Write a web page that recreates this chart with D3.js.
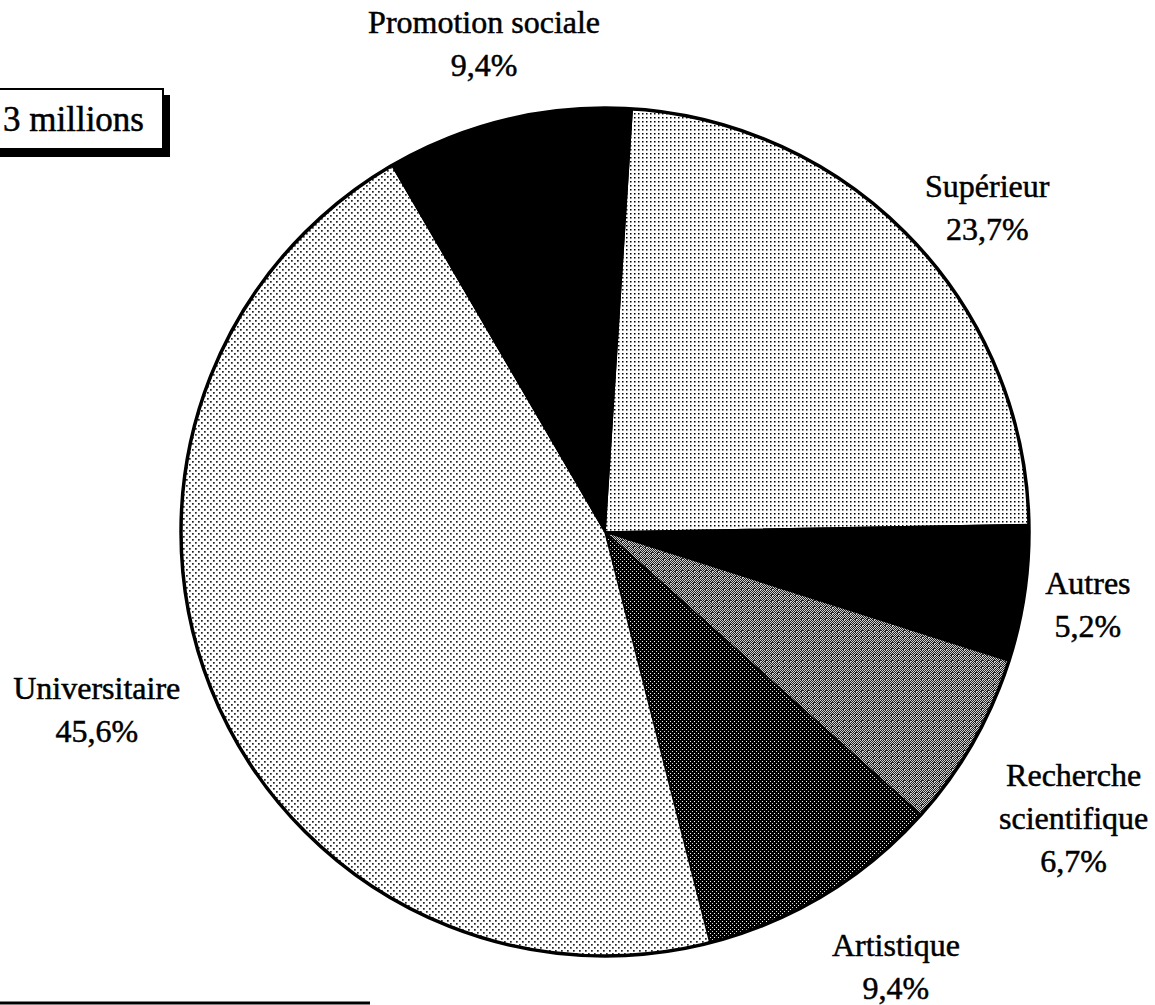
<!DOCTYPE html>
<html>
<head>
<meta charset="utf-8">
<script src="https://cdn.jsdelivr.net/npm/d3@7"></script>
<style>
  body { margin: 0; background: #fff; }
  svg { display: block; }
  text { font-family: "Liberation Serif", "Times New Roman", serif; fill: #000; stroke: #000; stroke-width: 0.5px; }
</style>
</head>
<body>
<div id="chart"></div>
<script>
// Data (share of the budget, %)
const categories = ["Supérieur", "Autres", "Recherche scientifique", "Artistique", "Universitaire", "Promotion sociale"];
const shares = [23.7, 5.2, 6.7, 9.4, 45.6, 9.4];
const shareLabels = ["23,7%", "5,2%", "6,7%", "9,4%", "45,6%", "9,4%"];
const labelLines = [["Supérieur"], ["Autres"], ["Recherche", "scientifique"], ["Artistique"], ["Universitaire"], ["Promotion sociale"]];
const totalLabel = "3 millions";

const width = 1155, height = 1005;
const cx = 605, cy = 532, radius = 424;
const fontSize = 32, lineGap = 43;

// fill of each slice, in category order
const fills = ["url(#p-sup)", "#000", "url(#p-rech)", "url(#p-art)", "url(#p-univ)", "#000"];

// label nudges from a point 480px out along the slice middle (layout only)
const labelR = 480;
const labelShift = [
  { dx: 35, dy: 7 },
  { dx: 8, dy: 3 },
  { dx: 52, dy: 48 },
  { dx: 42, dy: 25 },
  { dx: -64, dy: -4 },
  { dx: -11, dy: -21 }
];

const svg = d3.select("#chart")
  .append("svg")
  .attr("width", width)
  .attr("height", height);

// halftone patterns
const defs = svg.append("defs");

const pSup = defs.append("pattern").attr("id", "p-sup")
  .attr("patternUnits", "userSpaceOnUse").attr("width", 4).attr("height", 4);
pSup.append("rect").attr("width", 4).attr("height", 4).attr("fill", "#fff");
pSup.append("rect").attr("x", 1).attr("y", 1).attr("width", 1.5).attr("height", 1.5).attr("fill", "#000");

const pUniv = defs.append("pattern").attr("id", "p-univ")
  .attr("patternUnits", "userSpaceOnUse").attr("width", 6).attr("height", 6);
pUniv.append("rect").attr("width", 6).attr("height", 6).attr("fill", "#fff");
pUniv.append("rect").attr("x", 1).attr("y", 1).attr("width", 1.7).attr("height", 1.7).attr("fill", "#222");
pUniv.append("rect").attr("x", 4).attr("y", 4).attr("width", 1.7).attr("height", 1.7).attr("fill", "#222");

const pArt = defs.append("pattern").attr("id", "p-art")
  .attr("patternUnits", "userSpaceOnUse").attr("width", 4).attr("height", 4);
pArt.append("rect").attr("width", 4).attr("height", 4).attr("fill", "#000");
pArt.append("rect").attr("x", 1).attr("y", 1).attr("width", 1).attr("height", 1).attr("fill", "#fff");
pArt.append("rect").attr("x", 3).attr("y", 3).attr("width", 1).attr("height", 1).attr("fill", "#ddd");

// mottled mid grey
const pRech = defs.append("pattern").attr("id", "p-rech")
  .attr("patternUnits", "userSpaceOnUse").attr("width", 6).attr("height", 6);
pRech.append("rect").attr("width", 6).attr("height", 6).attr("fill", "#d0d0d0");
[[0, 0], [2, 0], [4, 0], [1, 1], [3, 1], [5, 1], [0, 2], [2, 2], [5, 2], [1, 3], [3, 3], [4, 3],
 [0, 4], [2, 4], [4, 4], [1, 5], [3, 5], [5, 5], [4, 2]]
  .forEach(c => pRech.append("rect")
    .attr("x", c[0]).attr("y", c[1]).attr("width", 1).attr("height", 1).attr("fill", "#222"));

// pie layout: Supérieur ends at 3 o'clock (scan is turned about 1 degree)
const tilt = -1 * Math.PI / 180;
const firstSpan = shares[0] / d3.sum(shares) * 2 * Math.PI;
const start = Math.PI / 2 - firstSpan + tilt;

const pie = d3.pie()
  .sort(null)
  .value(d => d)
  .startAngle(start)
  .endAngle(start + 2 * Math.PI);

const arcs = pie(shares);
const arc = d3.arc().innerRadius(0).outerRadius(radius);

const g = svg.append("g").attr("transform", `translate(${cx},${cy})`);

g.selectAll("path.slice")
  .data(arcs)
  .join("path")
  .attr("class", "slice")
  .attr("d", arc)
  .attr("fill", (d, i) => fills[i])
  .attr("stroke", "#000")
  .attr("stroke-width", 1.5);

g.append("circle")
  .attr("r", radius)
  .attr("fill", "none")
  .attr("stroke", "#000")
  .attr("stroke-width", 3.5);

// labels
g.selectAll("text.lab")
  .data(arcs)
  .join("text")
  .attr("class", "lab")
  .attr("text-anchor", "middle")
  .style("font-size", fontSize + "px")
  .each(function (d, i) {
    const mid = (d.startAngle + d.endAngle) / 2;
    const s = labelShift[i];
    const p = d3.pointRadial(mid, labelR);
    const lines = labelLines[i].concat([shareLabels[i]]);
    const top = p[1] + s.dy - (lines.length - 1) * lineGap / 2 + fontSize * 0.33;
    const t = d3.select(this);
    lines.forEach((line, k) => {
      t.append("tspan")
        .attr("x", p[0] + s.dx)
        .attr("y", top + k * lineGap)
        .text(line);
    });
  });

// total box, top-left (partly cut off)
const box = svg.append("g");
box.append("rect")
  .attr("x", -10).attr("y", 95).attr("width", 180).attr("height", 62)
  .attr("fill", "#000");
box.append("rect")
  .attr("x", -10).attr("y", 89).attr("width", 173).attr("height", 60)
  .attr("fill", "#fff").attr("stroke", "#000").attr("stroke-width", 2);
box.append("text")
  .attr("x", 3).attr("y", 131)
  .style("font-size", "35px")
  .text(totalLabel);

// rule at the bottom
svg.append("line")
  .attr("x1", 0).attr("x2", 370)
  .attr("y1", 1003).attr("y2", 1003)
  .attr("stroke", "#000").attr("stroke-width", 3);
</script>
</body>
</html>
